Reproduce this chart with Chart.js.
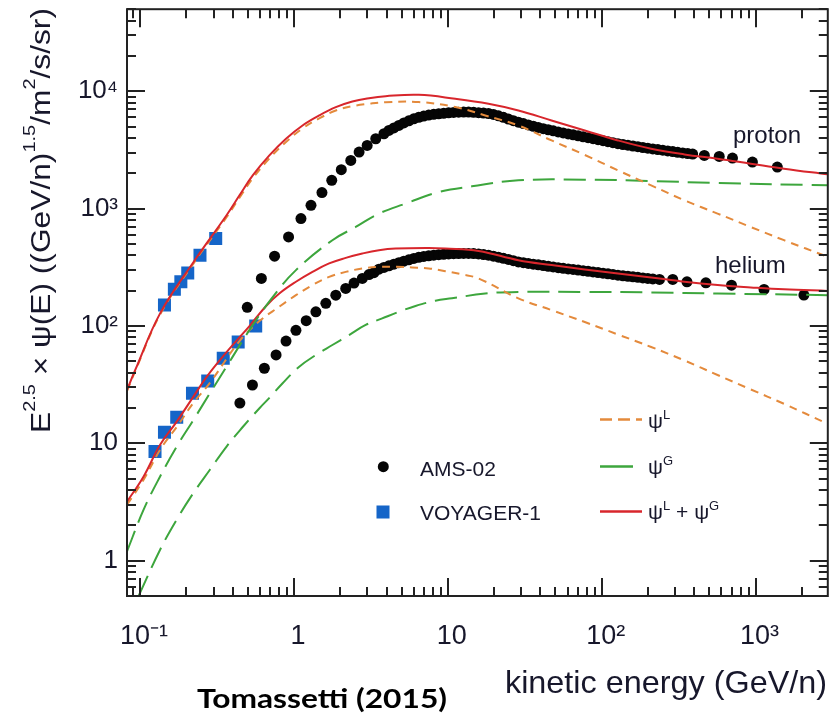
<!DOCTYPE html>
<html>
<head>
<meta charset="utf-8">
<title>Tomassetti (2015)</title>
<script src="https://cdn.jsdelivr.net/npm/chart.js@4.4.1/dist/chart.umd.min.js"></script>
<style>
  html, body { margin: 0; padding: 0; background: #fff; overflow: hidden; }
  #wrap { position: relative; width: 837px; height: 716px; }
</style>
</head>
<body>
<div id="wrap"><canvas id="chart" width="837" height="716"></canvas></div>
<script>
// Model curves (kinetic energy in GeV/n, E^2.5 x flux)
const protonSumE = [0.0822, 0.0930, 0.1349, 0.2220, 0.3646, 0.4426, 0.5395, 0.6920, 0.8875, 1.137, 1.458, 1.870, 2.395, 3.072, 3.939, 6.471, 11.18, 18.37, 28.73, 47.19, 77.62, 127.5, 209.5, 344.5, 566, 929.6, 1529, 2946];
const protonSumY = [28.5, 42.2, 128, 349, 877, 1298, 1919, 2840, 3938, 5109, 6216, 7311, 8173, 8719, 9068, 9319, 8618, 7816, 6855, 5636, 4634, 3809, 3237, 2895, 2662, 2414, 2189, 1957];

const protonLocE = [0.0822, 0.0930, 0.1349, 0.2220, 0.3646, 0.4426, 0.5395, 0.6920, 0.8875, 1.137, 1.458, 1.870, 2.395, 3.072, 3.939, 6.471, 11.18, 17.49, 28.73, 47.19, 77.62, 127.5, 209.5, 344.5, 566, 929.6, 1529, 2946];
const protonLocY = [27.9, 41.3, 125, 340, 843, 1240, 1810, 2678, 3698, 4817, 5860, 6855, 7455, 7816, 8064, 8090, 7339, 6216, 5109, 3809, 2865, 2118, 1578, 1177, 907, 697, 538, 388];

const protonGalE = [0.0822, 0.1054, 0.1349, 0.1730, 0.2220, 0.2842, 0.3646, 0.5137, 0.727, 1.030, 1.777, 2.519, 3.565, 5.309, 8.720, 14.32, 28.73, 77.62, 209.5, 566, 2946];
const protonGalY = [1.20, 2.72, 5.22, 9.39, 15.8, 26.7, 45.0, 92.3, 176, 299, 538, 697, 907, 1103, 1384, 1547, 1740, 1765, 1717, 1651, 1578];

const heliumSumE = [0.0822, 0.1054, 0.1349, 0.1730, 0.2220, 0.2706, 0.3383, 0.4295, 0.5137, 0.6589, 0.803, 1.030, 1.319, 1.692, 2.170, 2.780, 3.565, 4.574, 7.510, 9.634, 15.83, 28.73, 47.19, 77.62, 127.5, 209.5, 344.5, 566, 929.6, 1529, 2946];
const heliumSumY = [3.18, 5.22, 9.71, 15.3, 25.0, 36.8, 53.3, 76.6, 99.8, 148, 189, 238, 289, 341, 380, 414, 442, 457, 462, 457, 436, 363, 330, 303, 280, 259, 238, 223, 213, 205, 199];

const heliumLocE = [0.0822, 0.1054, 0.1349, 0.1730, 0.2220, 0.2842, 0.4426, 0.5963, 0.803, 1.030, 1.319, 1.692, 2.170, 2.780, 3.565, 4.574, 5.857, 7.510, 9.634, 12.34, 15.83, 28.73, 47.19, 77.62, 127.5, 209.5, 344.5, 566, 929.6, 1529, 2946];
const heliumLocY = [3.00, 4.89, 8.81, 13.8, 22.1, 32.7, 74.4, 110, 146, 183, 223, 262, 289, 309, 319, 319, 315, 309, 293, 275, 254, 172, 136.5, 108, 84.5, 66.2, 50.8, 38.2, 28.8, 21.7, 14.65];

const heliumGalE = [0.0978, 0.1349, 0.1730, 0.2220, 0.2842, 0.3646, 0.4675, 0.5988, 0.6920, 0.8437, 1.082, 1.388, 1.777, 2.280, 2.924, 3.745, 4.804, 6.163, 8.299, 10.63, 17.49, 28.73, 77.62, 209.5, 566, 2946];
const heliumGalY = [0.50, 1.24, 2.24, 3.77, 5.95, 9.39, 13.9, 20.0, 24.4, 32.5, 45.0, 56.6, 68.8, 83.7, 102, 116, 132, 148, 164, 172, 189, 195, 195, 193, 189, 183];

// AMS-02 points
const amsProtonE = [0.497, 0.614, 0.748, 0.922, 1.11, 1.29, 1.52, 1.76, 2.03, 2.34, 2.65, 2.99, 3.40,
    3.842, 4.139, 4.460, 4.804, 5.176, 5.577, 6.007, 6.471, 6.973, 7.510, 8.091, 8.720, 9.394, 10.12, 10.90, 11.75,
    12.66, 13.63, 14.69, 15.83, 17.05, 18.37, 19.79, 21.32, 22.97, 24.75, 26.66, 28.73, 30.95, 33.34, 35.93, 38.70,
    41.70, 44.92, 48.40, 52.15, 56.18, 60.53, 65.20, 70.25, 75.68, 81.53, 87.85, 94.65, 102.0, 109.8, 118.3, 127.5,
    137.4, 148.0, 159.5, 171.8, 185.1, 199.4, 214.8, 231.4, 249.4, 268.6, 289.4, 311.8, 335.9, 361.9, 389.9,
    464.3, 580.4, 707.6, 953.5, 1384];
const amsProtonY = [144, 254, 393, 574, 822, 1067, 1368, 1741, 2146, 2575, 3030, 3453, 3936,
    4342, 4634, 4866, 5109, 5365, 5601, 5826, 5999, 6142, 6263, 6362, 6424, 6488, 6552, 6603, 6629,
    6642, 6642, 6616, 6565, 6514, 6462, 6337, 6178, 5999, 5792, 5612, 5450, 5302, 5159, 5030, 4913,
    4799, 4697, 4597, 4499, 4412, 4325, 4250, 4168, 4087, 4016, 3938, 3862, 3787, 3714, 3642, 3571,
    3516, 3468, 3414, 3368, 3315, 3270, 3226, 3182, 3145, 3102, 3059, 3018, 2982, 2947, 2913,
    2840, 2784, 2693, 2490, 2258];

const amsHeliumE = [0.445, 0.537, 0.642, 0.765, 0.888, 1.030, 1.201, 1.388, 1.611, 1.870, 2.170, 2.456, 2.780, 3.072,
    3.309, 3.565, 3.842, 4.139, 4.460, 4.804, 5.176, 5.577, 6.007, 6.471, 6.973, 7.510, 8.091, 8.720, 9.394, 10.12,
    10.90, 11.75, 12.66, 13.63, 14.69, 15.83, 17.05, 18.37, 19.79, 21.32, 22.97, 24.75, 26.66, 28.73, 30.95, 33.34,
    35.93, 38.70, 41.70, 44.92, 48.40, 52.15, 56.18, 60.53, 65.20, 70.25, 75.68, 81.53, 87.85, 94.65, 102.0, 109.8,
    118.3, 127.5, 137.4, 148.0, 159.5, 171.8, 185.1, 199.4, 214.8,
    237.4, 289.4, 358.1, 475.3, 697.2, 1135, 2060];
const amsHeliumY = [22.0, 31.4, 43.6, 56.6, 74.4, 91.8, 111, 132, 156, 183, 209, 232, 254, 274,
    284.5, 304.7, 315.0, 325.7, 336.1, 346.1, 356.4, 366.3, 375.8, 384.0, 390.8, 396.2, 400.8, 404.8, 408.0, 410.4,
    412.8, 414.4, 415.2, 415.2, 413.6, 411.2, 405.6, 400.8, 393.0, 385.4, 377.2, 368.5, 359.9, 351.5, 346.1, 340.7,
    336.1, 331.5, 327.0, 322.6, 318.2, 313.8, 310.1, 306.4, 302.9, 299.3, 295.8, 292.4, 288.9, 285.0, 281.7, 277.8,
    274.6, 270.9, 267.7, 265.1, 262.0, 259.5, 256.4, 254.0, 251.5,
    249.0, 249.0, 237.6, 232.9, 222.7, 204.7, 183.1];

// VOYAGER-1 points
const voyProtonE = [0.144, 0.167, 0.184, 0.204, 0.245, 0.310];
const voyProtonY = [151, 205, 238, 283, 401, 556];
const voyHeliumE = [0.125, 0.144, 0.173, 0.219, 0.275, 0.347, 0.434, 0.564];
const voyHeliumY = [8.5, 12.4, 16.7, 26.7, 34, 53, 73, 100];

const xRange = [0.0822, 2946];
const yRange = [0.5, 50000];

// Styles
const RED = '#d8262c';
const ORANGE = '#e48a3c';
const GREEN = '#3da63d';
const BLUE = '#1565c8';
const INK = '#17172b';
const FONT = "'Liberation Sans', Arial, Helvetica, sans-serif";

const pts = (xs, ys) => xs.map((x, i) => ({ x: x, y: ys[i] }));

function curve(label, xs, ys, color, dash) {
    return {
        label: label,
        data: pts(xs, ys),
        showLine: true,
        borderColor: color,
        borderWidth: 2,
        borderDash: dash,
        pointRadius: 0,
        tension: 0.4,
        fill: false,
        order: 0
    };
}

function markers(label, xs, ys, color, style, radius) {
    return {
        label: label,
        data: pts(xs, ys),
        showLine: false,
        pointStyle: style,
        pointRadius: radius,
        pointBackgroundColor: color,
        pointBorderColor: color,
        pointBorderWidth: 0,
        order: 1
    };
}

// log ticks 1..9 x 10^n, decades are the major ones
function logTicks(scale) {
    const ticks = [];
    const e0 = Math.floor(Math.log10(scale.min));
    const e1 = Math.ceil(Math.log10(scale.max));
    for (let e = e0; e <= e1; e++) {
        for (let m = 1; m <= 9; m++) {
            const v = Number((m * Math.pow(10, e)).toPrecision(6));
            if (v >= scale.min && v <= scale.max) ticks.push({ value: v, major: m === 1 });
        }
    }
    scale.ticks = ticks;
}

const SUP = { '-': '\u207b', '0': '\u2070', '1': '\u00b9', '2': '\u00b2', '3': '\u00b3', '4': '\u2074', '5': '\u2075', '6': '\u2076', '7': '\u2077', '8': '\u2078', '9': '\u2079' };
function decadeLabel(v) {
    const l = Math.log10(v);
    const e = Math.round(l);
    if (Math.abs(l - e) > 1e-6) return '';
    if (e === 0) return '1';
    if (e === 1) return '10';
    return '10' + String(e).split('').map(c => SUP[c]).join('');
}

// text with raised parts: [[text, isSup], ...]
function richWidth(ctx, parts, size, weight) {
    let w = 0;
    parts.forEach(([t, sup]) => {
        ctx.font = `${weight} ${sup ? Math.round(size * 0.62) : size}px ${FONT}`;
        w += ctx.measureText(t).width;
    });
    return w;
}
function drawRich(ctx, parts, x, y, size, weight, raise) {
    let cx = x;
    parts.forEach(([t, sup]) => {
        ctx.font = `${weight} ${sup ? Math.round(size * 0.62) : size}px ${FONT}`;
        ctx.fillText(t, cx, sup ? y - size * raise : y);
        cx += ctx.measureText(t).width;
    });
}

const frameAndText = {
    id: 'frameAndText',
    afterDatasetsDraw(chart) {
        const ctx = chart.ctx;
        const a = chart.chartArea;
        const sx = chart.scales.x, sy = chart.scales.y;
        ctx.save();
        ctx.strokeStyle = '#222';
        ctx.lineWidth = 2;
        ctx.strokeRect(a.left, a.top, a.right - a.left, a.bottom - a.top);
        ctx.beginPath();
        sx.ticks.forEach(t => {
            const p = Math.round(sx.getPixelForValue(t.value));
            const len = t.major ? 18 : 9;
            ctx.moveTo(p, a.bottom); ctx.lineTo(p, a.bottom - len);
            ctx.moveTo(p, a.top); ctx.lineTo(p, a.top + len);
        });
        sy.ticks.forEach(t => {
            const p = Math.round(sy.getPixelForValue(t.value));
            const len = t.major ? 18 : 9;
            ctx.moveTo(a.left, p); ctx.lineTo(a.left + len, p);
            ctx.moveTo(a.right, p); ctx.lineTo(a.right - len, p);
        });
        ctx.stroke();
        ctx.restore();
    },
    afterDraw(chart) {
        const ctx = chart.ctx;
        ctx.save();
        ctx.fillStyle = INK;
        ctx.textAlign = 'left';
        ctx.textBaseline = 'alphabetic';

        // y axis title, rotated and fitted to its length
        const yTitle = [['E', false], ['2.5', true], [' \u00d7 \u03c8(E) ((GeV/n)', false], ['1.5', true], ['/m', false], ['2', true], ['/s/sr)', false]];
        ctx.save();
        ctx.translate(50, 433);
        ctx.rotate(-Math.PI / 2);
        const yw = richWidth(ctx, yTitle, 27, 'normal');
        ctx.scale(425 / yw, 1);
        drawRich(ctx, yTitle, 0, 0, 27, 'normal', 0.55);
        ctx.restore();

        // x axis title
        ctx.save();
        ctx.font = `32px ${FONT}`;
        const xt = 'kinetic energy (GeV/n)';
        const xw = ctx.measureText(xt).width;
        ctx.translate(827, 693);
        ctx.scale(322 / xw, 1);
        ctx.textAlign = 'right';
        ctx.fillText(xt, 0, 0);
        ctx.restore();

        // curve labels
        ctx.font = `24px ${FONT}`;
        ctx.fillText('proton', 733, 143);
        ctx.fillText('helium', 715, 273);

        // legend, left column
        ctx.fillStyle = '#050505';
        ctx.beginPath();
        ctx.arc(383.3, 466.7, 5.5, 0, Math.PI * 2);
        ctx.fill();
        ctx.fillStyle = BLUE;
        ctx.fillRect(376.5, 505.5, 13, 13);
        ctx.fillStyle = INK;
        ctx.font = `21px ${FONT}`;
        ctx.fillText('AMS-02', 420, 476);
        ctx.fillText('VOYAGER-1', 420, 519.5);

        // legend, right column
        ctx.lineWidth = 2.5;
        ctx.strokeStyle = ORANGE;
        ctx.setLineDash([12, 6]);
        ctx.beginPath(); ctx.moveTo(600, 419.5); ctx.lineTo(642, 419.5); ctx.stroke();
        ctx.setLineDash([]);
        ctx.strokeStyle = GREEN;
        ctx.beginPath(); ctx.moveTo(600, 466.5); ctx.lineTo(633, 466.5); ctx.stroke();
        ctx.strokeStyle = RED;
        ctx.beginPath(); ctx.moveTo(600, 511.5); ctx.lineTo(642, 511.5); ctx.stroke();
        ctx.fillStyle = INK;
        drawRich(ctx, [['\u03c8', false], ['L', true]], 648, 428, 21, 'normal', 0.45);
        drawRich(ctx, [['\u03c8', false], ['G', true]], 648, 474, 21, 'normal', 0.45);
        drawRich(ctx, [['\u03c8', false], ['L', true], [' + ', false], ['\u03c8', false], ['G', true]], 648, 519, 21, 'normal', 0.45);

        // source note
        ctx.save();
        ctx.font = `bold 26px Lato, ${FONT}`;
        const src = 'Tomassetti (2015)';
        const sw = ctx.measureText(src).width;
        ctx.translate(197, 708);
        ctx.scale(250 / sw, 1);
        ctx.fillStyle = '#000';
        ctx.fillText(src, 0, 0);
        ctx.restore();

        ctx.restore();
    }
};

const chart = new Chart(document.getElementById('chart'), {
    type: 'scatter',
    data: {
        datasets: [
            curve('proton \u03c8L+\u03c8G', protonSumE, protonSumY, RED, []),
            curve('proton \u03c8L', protonLocE, protonLocY, ORANGE, [8, 6]),
            curve('proton \u03c8G', protonGalE, protonGalY, GREEN, [22, 9]),
            curve('helium \u03c8L+\u03c8G', heliumSumE, heliumSumY, RED, []),
            curve('helium \u03c8L', heliumLocE, heliumLocY, ORANGE, [8, 6]),
            curve('helium \u03c8G', heliumGalE, heliumGalY, GREEN, [22, 9]),
            markers('AMS-02 proton', amsProtonE, amsProtonY, '#050505', 'circle', 5.5),
            markers('AMS-02 helium', amsHeliumE, amsHeliumY, '#050505', 'circle', 5.5),
            markers('VOYAGER-1 proton', voyProtonE, voyProtonY, BLUE, 'rect', 9.2),
            markers('VOYAGER-1 helium', voyHeliumE, voyHeliumY, BLUE, 'rect', 9.2)
        ]
    },
    options: {
        responsive: false,
        animation: false,
        layout: { padding: { top: 9, right: 6, bottom: 0, left: 0 } },
        plugins: {
            legend: { display: false },
            tooltip: { enabled: false }
        },
        scales: {
            x: {
                type: 'logarithmic',
                min: xRange[0],
                max: xRange[1],
                afterBuildTicks: logTicks,
                afterFit: function(scale) {
                    scale.height = 120;
                    scale.paddingLeft = 0;
                    scale.paddingRight = 0;
                },
                grid: { display: false, drawTicks: false },
                border: { display: false },
                ticks: {
                    autoSkip: false,
                    maxRotation: 0,
                    padding: 24,
                    labelOffset: 4,
                    color: INK,
                    font: { family: FONT, size: 27 },
                    callback: v => decadeLabel(v)
                }
            },
            y: {
                type: 'logarithmic',
                min: yRange[0],
                max: yRange[1],
                afterBuildTicks: logTicks,
                afterFit: function(scale) {
                    scale.width = 127;
                    scale.paddingTop = 0;
                    scale.paddingBottom = 0;
                },
                grid: { display: false, drawTicks: false },
                border: { display: false },
                ticks: {
                    autoSkip: false,
                    padding: 9,
                    color: INK,
                    font: { family: FONT, size: 26 },
                    callback: v => decadeLabel(v)
                }
            }
        }
    },
    plugins: [frameAndText]
});
</script>
</body>
</html>
